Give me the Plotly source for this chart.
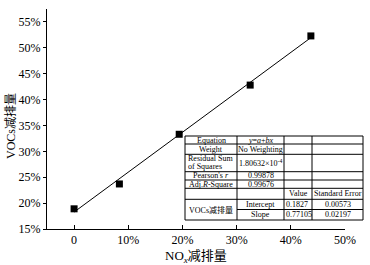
import plotly.graph_objects as go

# data
nox = [0.0, 0.0836, 0.194, 0.325, 0.437]
voc = [0.189, 0.237, 0.333, 0.428, 0.523]
intercept = 0.1827
slope = 0.77105
fit_range = [0.0, 0.443]
x_ticks = [0, 0.1, 0.2, 0.3, 0.4, 0.5]
x_ticklabels = ["0", "10%", "20%", "30%", "40%", "50%"]
y_ticks = [0.15, 0.20, 0.25, 0.30, 0.35, 0.40, 0.45, 0.50, 0.55]
y_ticklabels = ["15%", "20%", "25%", "30%", "35%", "40%", "45%", "50%", "55%"]

W, H = 370, 265
L, R, T, B = 47, 345, 9, 229

FONT = "Liberation Serif, Times New Roman, Noto Sans CJK SC, serif"

fig = go.Figure()
fit_y = [intercept + slope * v for v in fit_range]
fig.add_trace(go.Scatter(x=fit_range, y=fit_y, mode="lines",
                         line=dict(color="black", width=1), showlegend=False,
                         hoverinfo="skip"))
fig.add_trace(go.Scatter(x=nox, y=voc, mode="markers",
                         marker=dict(symbol="square", size=7, color="black"),
                         showlegend=False))

def px(x):
    return (x - L) / (R - L)

def py(y):
    return (B - y) / (B - T)

shapes = []
def line(x0, y0, x1, y1):
    shapes.append(dict(type="line", xref="paper", yref="paper",
                       x0=px(x0), y0=py(y0), x1=px(x1), y1=py(y1),
                       line=dict(color="black", width=1)))

# table geometry (pixels)
tx0, tx1 = 185, 363
cols = [185, 237, 284, 312, 363]
rows = [136, 144, 154.3, 171.7, 180, 188.3, 199.3, 209.5, 220]

shapes.append(dict(type="rect", xref="paper", yref="paper",
                   x0=px(tx0), x1=px(tx1), y0=py(rows[0]), y1=py(rows[-1]),
                   fillcolor="white", line=dict(color="black", width=1)))
for c in cols[1:-1]:
    line(c, rows[0], c, rows[-1])
for i, r in enumerate(rows[1:-1], start=1):
    if i == 7:
        line(cols[1], r, tx1, r)
    else:
        line(tx0, r, tx1, r)

ann = []
def txt(x, y, s, size=8, anchor="center"):
    ann.append(dict(x=px(x), y=py(y), xref="paper", yref="paper", text=s,
                    showarrow=False, borderpad=0,
                    font=dict(family=FONT, size=size, color="black"),
                    xanchor=anchor, yanchor="middle"))

cell_text = [
    ("Equation", "<i>y</i>=<i>a</i>+<i>bx</i>"),
    ("Weight", "No Weighting"),
    (None, "1.80632×10<sup>-4</sup>"),
    ("Pearson's <i>r</i>", "0.99878"),
    ("Adj.<i>R</i>-Square", "0.99676"),
]
for i, (a, b) in enumerate(cell_text):
    yc = (rows[i] + rows[i + 1]) / 2
    if a is not None:
        txt((cols[0] + cols[1]) / 2, yc, a)
    txt((cols[1] + cols[2]) / 2, yc, b)
txt(cols[0] + 2, rows[2] + 4.5, "Residual Sum", anchor="left")
txt(cols[0] + 2, rows[2] + 12.5, "of Squares", anchor="left")

yc = (rows[5] + rows[6]) / 2
txt((cols[2] + cols[3]) / 2, yc, "Value")
txt((cols[3] + cols[4]) / 2, yc, "Standard Error")
txt((cols[0] + cols[1]) / 2, (rows[6] + rows[8]) / 2, "VOCs减排量")
params = [("Intercept", "0.1827", "0.00573"), ("Slope", "0.77105", "0.02197")]
for k, (n, v, e) in enumerate(params):
    yc = (rows[6 + k] + rows[7 + k]) / 2
    txt((cols[1] + cols[2]) / 2, yc, n)
    txt(cols[2] + 0.5, yc, v, anchor="left")
    txt((cols[3] + cols[4]) / 2, yc, e)

ann.append(dict(x=0.5, y=py(256), xref="paper", yref="paper",
                text="NO<sub><i>x</i></sub>减排量", showarrow=False, borderpad=0,
                font=dict(family=FONT, size=13, color="black"),
                xanchor="center", yanchor="middle"))
ann.append(dict(x=px(11), y=py(126), xref="paper", yref="paper",
                text="VOCs减排量", showarrow=False, textangle=-90,
                font=dict(family=FONT, size=12, color="black"),
                xanchor="center", yanchor="middle"))

fig.update_layout(
    width=W, height=H,
    margin=dict(l=L, r=W - R, t=T, b=H - B, pad=0),
    paper_bgcolor="white", plot_bgcolor="white",
    font=dict(family=FONT, size=12, color="black"),
    shapes=shapes, annotations=ann,
    xaxis=dict(range=[-0.05, 0.5], tickvals=x_ticks, ticktext=x_ticklabels,
               showgrid=False, zeroline=False, showline=True, linecolor="black",
               linewidth=1, ticks="inside", ticklen=4, tickcolor="black",
               tickfont=dict(family=FONT, size=12)),
    yaxis=dict(range=[0.15, 0.575], tickvals=y_ticks, ticktext=y_ticklabels,
               showgrid=False, zeroline=False, showline=True, linecolor="black",
               linewidth=1, ticks="outside", ticklen=3, tickcolor="black",
               tickfont=dict(family=FONT, size=12)),
)

fig.write_html("out.html", config={"displayModeBar": False},
               post_script="document.body.style.margin='0';document.body.style.overflow='hidden';")
